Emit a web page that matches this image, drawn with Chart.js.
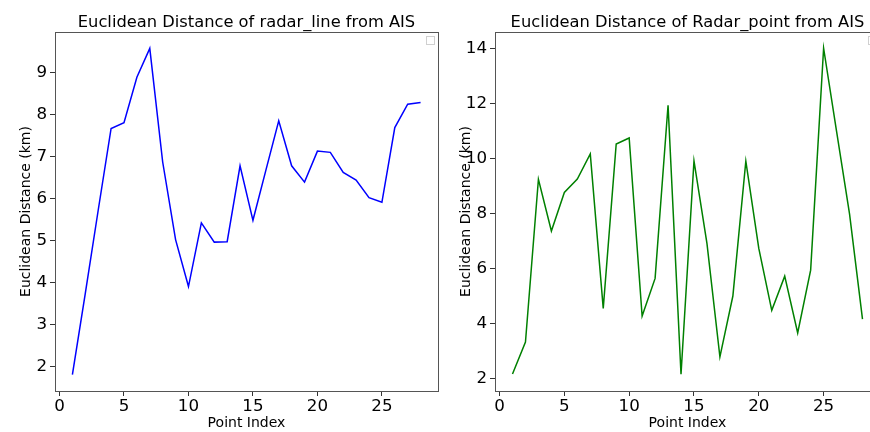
<!DOCTYPE html>
<html>
<head>
<meta charset="utf-8">
<script src="https://cdn.jsdelivr.net/npm/chart.js@4/dist/chart.umd.min.js"></script>
<style>
  html, body { margin: 0; padding: 0; background: #fff; overflow: hidden; width: 870px; height: 432px; }
  canvas { position: absolute; top: 0; }
  #left { left: 0; }
  #right { left: 440px; }
</style>
</head>
<body>
<canvas id="left" width="440" height="432"></canvas>
<canvas id="right" width="442" height="432"></canvas>
<script>
var pointIndex = [1, 2, 3, 4, 5, 6, 7, 8, 9, 10, 11, 12, 13, 14, 15, 16, 17, 18, 19, 20, 21, 22, 23, 24, 25, 26, 27, 28];
var radarLine = [1.80, 3.74, 5.72, 7.67, 7.81, 8.89, 9.58, 6.87, 5.02, 3.90, 5.42, 4.96, 4.97, 6.78, 5.48, 6.67, 7.85, 6.78, 6.39, 7.13, 7.10, 6.62, 6.44, 6.02, 5.91, 7.69, 8.25, 8.29];
var radarPoint = [2.17, 3.33, 9.24, 7.36, 8.76, 9.25, 10.16, 4.55, 10.52, 10.74, 4.27, 5.64, 11.93, 2.16, 9.91, 6.91, 2.79, 5.00, 9.90, 6.73, 4.48, 5.72, 3.66, 5.94, 14.00, 10.98, 7.98, 4.16];
var xTicks = [0, 5, 10, 15, 20, 25];
var leftYTicks = [2, 3, 4, 5, 6, 7, 8, 9];
var rightYTicks = [2, 4, 6, 8, 10, 12, 14];

var FONT = '"DejaVu Sans", sans-serif';

// matplotlib-ish frame: four spines, title over the axes, empty legend box
var framePlugin = {
	id: 'frame',
	afterDraw: function(chart, args, opts) {
		var a = chart.chartArea;
		var ctx = chart.ctx;
		ctx.save();
		ctx.strokeStyle = '#555';
		ctx.lineWidth = 1;
		ctx.strokeRect(Math.round(a.left) + 0.5, Math.round(a.top) + 0.5, Math.round(a.right - a.left), Math.round(a.bottom - a.top));
		// empty legend frame
		ctx.strokeStyle = '#d0d0d0';
		ctx.strokeRect(Math.round(a.right) - 11.5, Math.round(a.top) + 4.5, 8, 8);
		ctx.fillStyle = '#000';
		ctx.font = '16.3px ' + FONT;
		ctx.textAlign = 'center';
		ctx.textBaseline = 'alphabetic';
		ctx.fillText(opts.text, (a.left + a.right) / 2, 27);
		ctx.restore();
	}
};

function fixTicks(list) {
	return function(scale) {
		scale.ticks = list.map(function(v) { return {value: v}; });
	};
}

function makeChart(id, title, values, color, yMin, yMax, yTicks) {
	var data = values.map(function(v, i) { return {x: pointIndex[i], y: v}; });
	return new Chart(document.getElementById(id), {
		type: 'line',
		data: {
			datasets: [{
				data: data,
				borderColor: color,
				borderWidth: 1.5,
				pointRadius: 0,
				tension: 0,
				fill: false
			}]
		},
		options: {
			responsive: false,
			animation: false,
			layout: { padding: { top: 32, right: 2, left: 0, bottom: 0 } },
			plugins: {
				legend: { display: false },
				tooltip: { enabled: false },
				frame: { text: title }
			},
			scales: {
				x: {
					type: 'linear',
					min: -0.35,
					max: 29.35,
					afterBuildTicks: fixTicks(xTicks),
					afterFit: function(scale) { scale.height = 41; },
					grid: { drawOnChartArea: false, drawTicks: true, tickLength: 5, color: '#333' },
					border: { display: false },
					ticks: { color: '#000', font: { family: FONT, size: 16.7 }, padding: 1, maxRotation: 0, callback: function(v) { return v; } },
					title: { display: true, text: 'Point Index', color: '#000', font: { family: FONT, size: 14 }, padding: { top: 0, bottom: 0 } }
				},
				y: {
					type: 'linear',
					min: yMin,
					max: yMax,
					afterBuildTicks: fixTicks(yTicks),
					afterFit: function(scale) { scale.width = 55; },
					grid: { drawOnChartArea: false, drawTicks: true, tickLength: 5, color: '#333' },
					border: { display: false },
					ticks: { color: '#000', font: { family: FONT, size: 16.7 }, padding: 3, callback: function(v) { return v; } },
					title: { display: true, text: 'Euclidean Distance (km)', color: '#000', font: { family: FONT, size: 14 }, padding: { top: 18, bottom: 0 } }
				}
			}
		},
		plugins: [framePlugin]
	});
}

makeChart('left', 'Euclidean Distance of radar_line from AIS', radarLine, '#0000ff', 1.41, 9.97, leftYTicks);
makeChart('right', 'Euclidean Distance of Radar_point from AIS', radarPoint, '#008000', 1.55, 14.59, rightYTicks);
</script>
</body>
</html>
